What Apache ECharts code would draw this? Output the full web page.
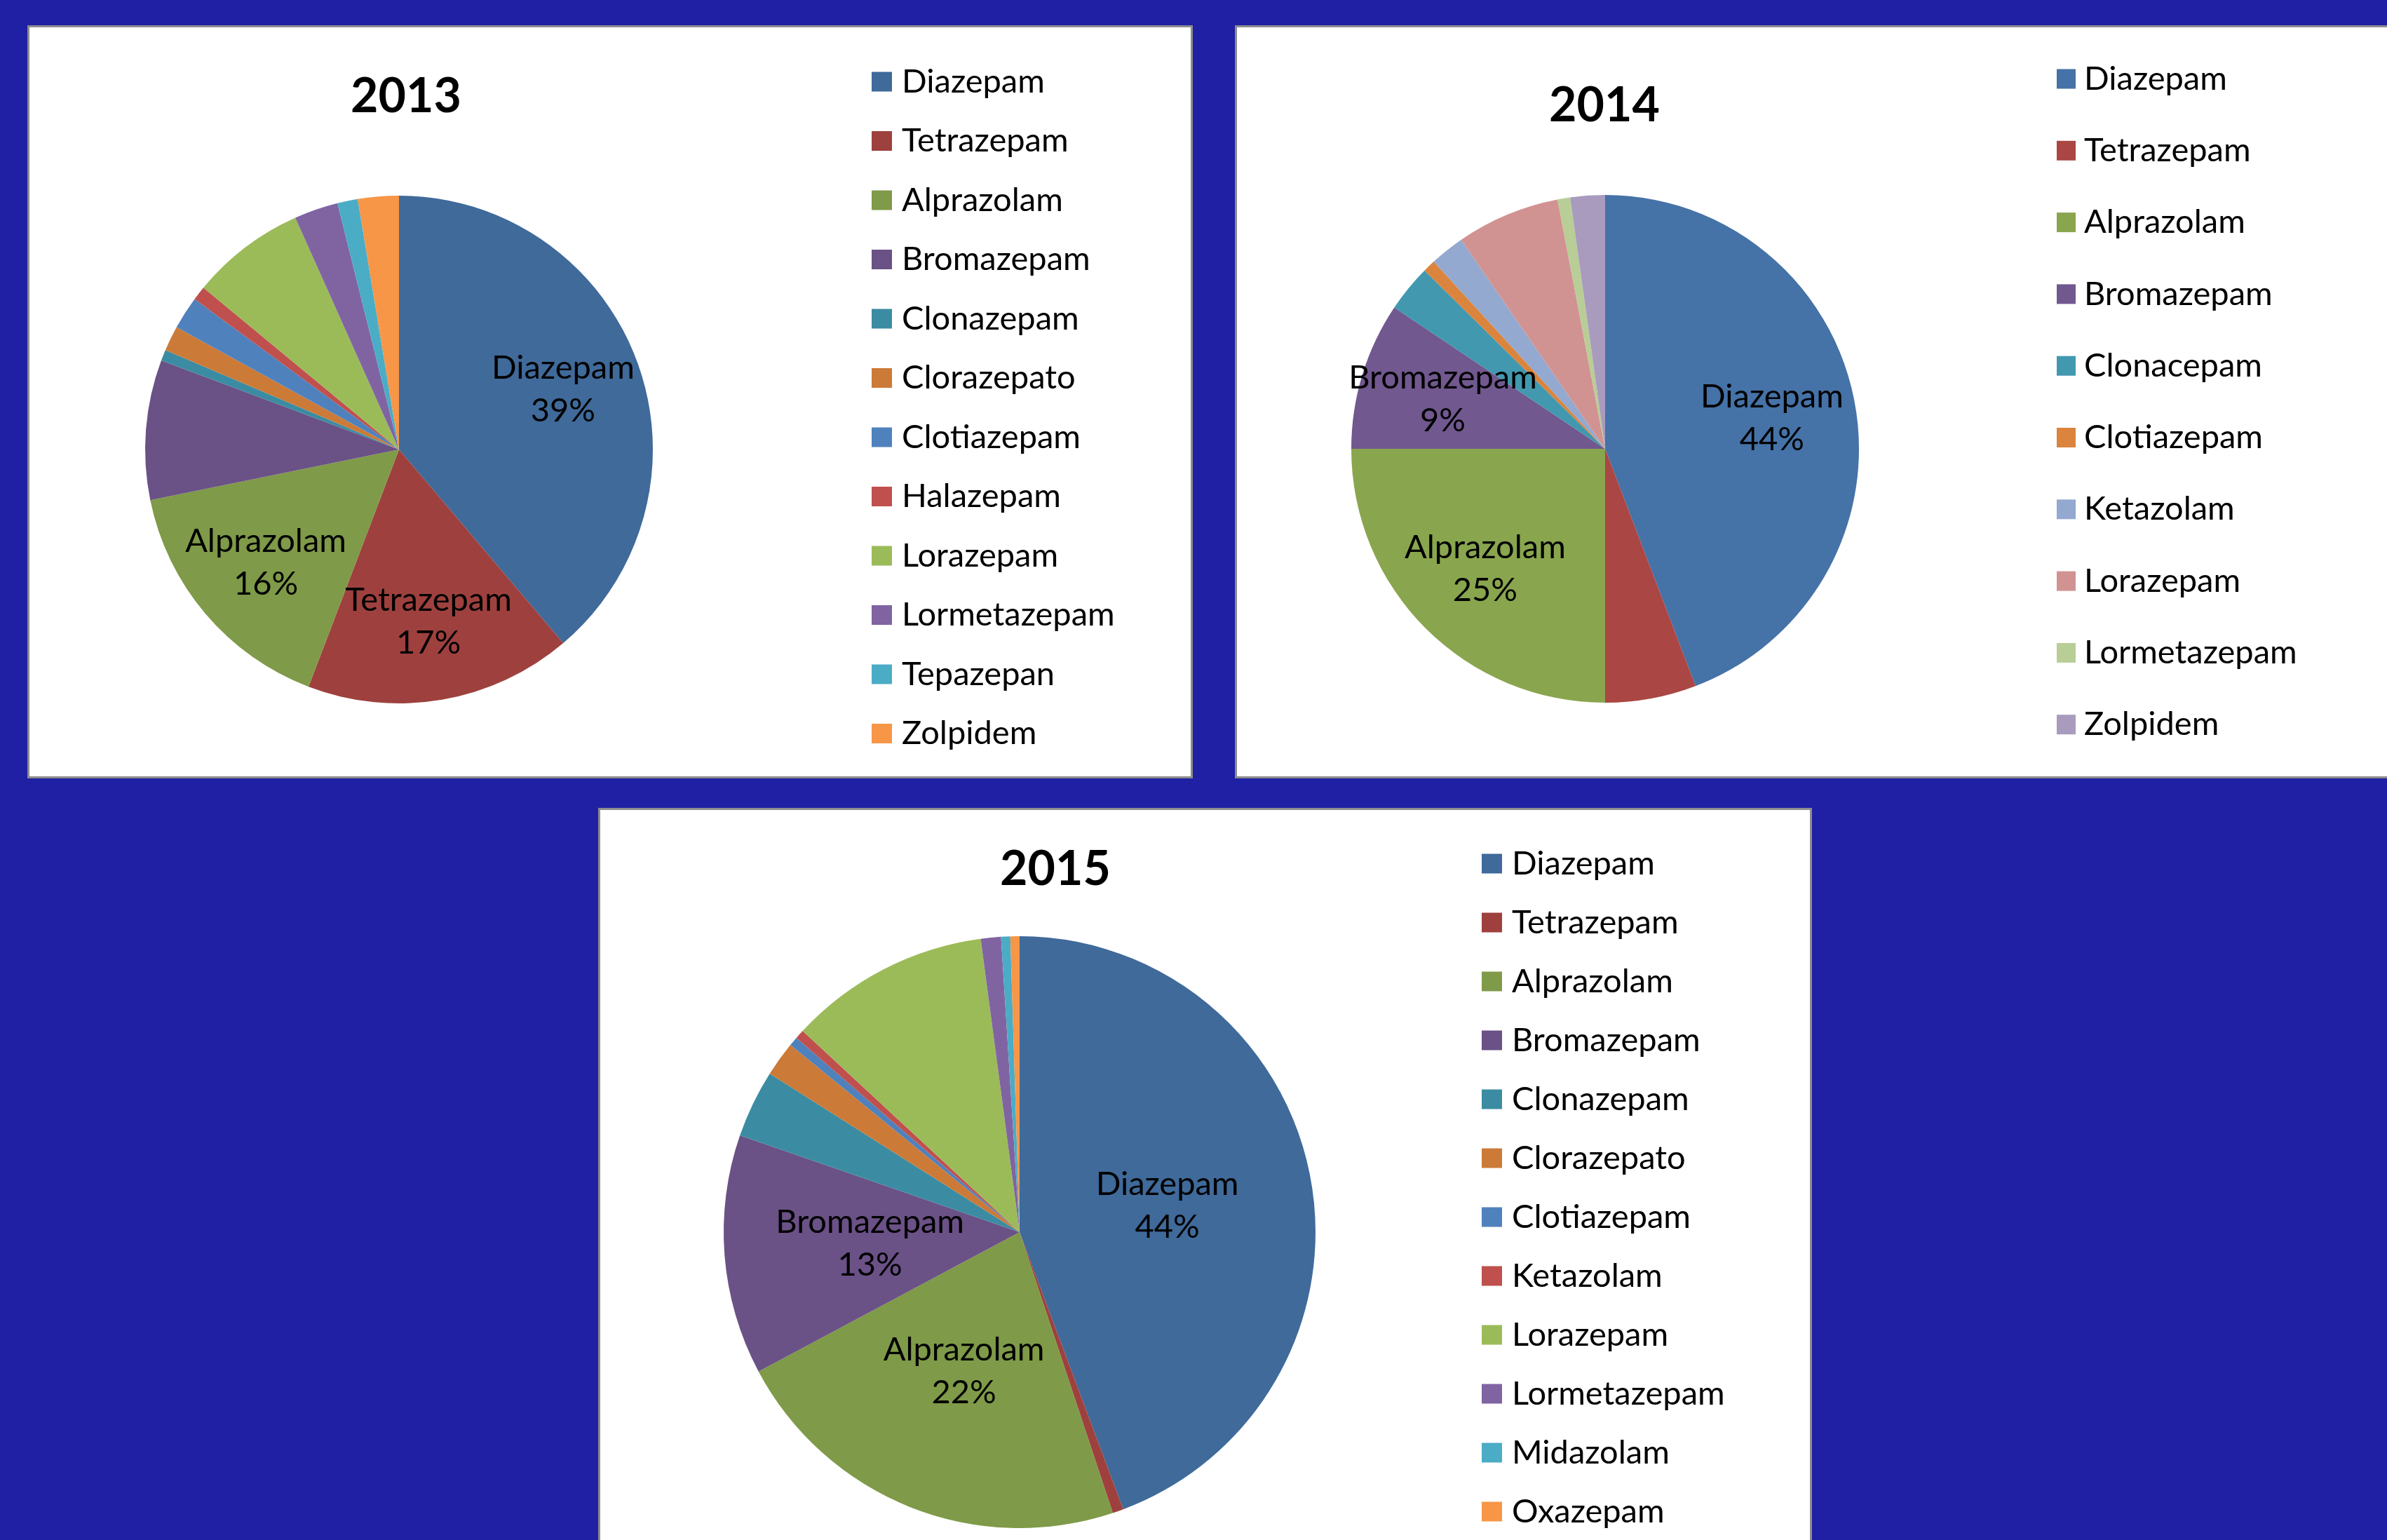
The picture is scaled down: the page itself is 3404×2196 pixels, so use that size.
<!DOCTYPE html>
<html>
<head>
<meta charset="utf-8">
<title>Benzodiacepinas 2013 - 2015</title>
<script src="https://cdn.jsdelivr.net/npm/echarts@6.0.0/dist/echarts.min.js"></script>
<style>
  html, body { margin: 0; padding: 0; }
  body { width: 3404px; height: 2196px; background: #1f20a4; position: relative; overflow: hidden; }
  .panel { position: absolute; background: #fff; box-sizing: border-box; border: 3px solid #8c8c8c; }
  .chart { position: absolute; }
</style>
</head>
<body>
<div class="panel" style="left:39px;top:36px;width:1662px;height:1074px"></div>
<div class="panel" style="left:1761px;top:36px;width:1662px;height:1074px"></div>
<div class="panel" style="left:853px;top:1152px;width:1731px;height:1100px"></div>
<div id="c2013" class="chart" style="left:39px;top:36px;width:1662px;height:1074px"></div>
<div id="c2014" class="chart" style="left:1761px;top:36px;width:1662px;height:1074px"></div>
<div id="c2015" class="chart" style="left:853px;top:1152px;width:1731px;height:1100px"></div>
<script>
// 2013
var names2013 = ['Diazepam', 'Tetrazepam', 'Alprazolam', 'Bromazepam', 'Clonazepam', 'Clorazepato',
    'Clotiazepam', 'Halazepam', 'Lorazepam', 'Lormetazepam', 'Tepazepan', 'Zolpidem'];
var values2013 = [38.8, 17.0, 16.0, 8.9, 0.7, 1.6, 2.1, 0.9, 7.3, 2.8, 1.3, 2.6];
var labeled2013 = ['Diazepam', 'Tetrazepam', 'Alprazolam'];
var colors2013 = ['#3f6a9a', '#9e413e', '#7f9a48', '#6a5186', '#3b8ca2', '#cc7a37',
    '#4f81bd', '#c0504d', '#9bbb59', '#8064a2', '#4bacc6', '#f79646'];

// 2014
var names2014 = ['Diazepam', 'Tetrazepam', 'Alprazolam', 'Bromazepam', 'Clonacepam', 'Clotiazepam',
    'Ketazolam', 'Lorazepam', 'Lormetazepam', 'Zolpidem'];
var values2014 = [44.2, 5.8, 25.0, 9.4, 3.0, 0.8, 2.2, 6.6, 0.8, 2.2];
var labeled2014 = ['Diazepam', 'Alprazolam', 'Bromazepam'];
var colors2014 = ['#4572a7', '#aa4643', '#89a54e', '#71588f', '#4198af', '#db843d',
    '#93a9cf', '#d19392', '#b9cd96', '#a99bbd'];

// 2015
var names2015 = ['Diazepam', 'Tetrazepam', 'Alprazolam', 'Bromazepam', 'Clonazepam', 'Clorazepato',
    'Clotiazepam', 'Ketazolam', 'Lorazepam', 'Lormetazepam', 'Midazolam', 'Oxazepam'];
var values2015 = [44.3, 0.6, 22.3, 13.1, 3.7, 1.9, 0.5, 0.5, 11.0, 1.1, 0.5, 0.5];
var labeled2015 = ['Diazepam', 'Alprazolam', 'Bromazepam'];
var colors2015 = colors2013;

var FONT = 'Lato, "Open Sans", sans-serif';

function drawPie(domId, title, names, values, colors, labeled, lay) {
    var chart = echarts.init(document.getElementById(domId), null, {
        width: lay.width,
        height: lay.height
    });
    var slices = [];
    var labels = [];
    var legendData = [];
    for (var i = 0; i < names.length; i++) {
        slices.push({ name: names[i], value: values[i], itemStyle: { color: colors[i] } });
        labels.push({ name: names[i], value: values[i], label: { show: labeled.indexOf(names[i]) >= 0 } });
        legendData.push({ name: names[i], itemStyle: { color: colors[i] } });
    }
    var option = {
        animation: false,
        graphic: [{
            type: 'text',
            x: lay.titleX,
            y: lay.titleY,
            style: {
                text: title,
                font: 'bold 68px ' + FONT,
                fill: '#000',
                align: 'center',
                verticalAlign: 'middle'
            }
        }],
        legend: {
            orient: 'vertical',
            left: lay.legendLeft,
            top: lay.legendTop,
            padding: 0,
            itemGap: lay.legendGap,
            itemWidth: lay.markW,
            itemHeight: 28,
            icon: 'rect',
            selectedMode: false,
            data: legendData,
            textStyle: {
                fontFamily: FONT,
                fontSize: 47,
                lineHeight: 47,
                color: '#000',
                padding: [0, 0, 0, lay.textPad]
            }
        },
        series: [
            {
                type: 'pie',
                center: lay.center,
                radius: [0, lay.r],
                startAngle: 90,
                clockwise: true,
                silent: true,
                itemStyle: { borderWidth: 0 },
                label: { show: false },
                labelLine: { show: false },
                data: slices
            },
            {
                // labels only: the inner radius sets how far out the inside labels sit
                type: 'pie',
                center: lay.center,
                radius: [lay.r * lay.labelInner, lay.r],
                startAngle: 90,
                clockwise: true,
                silent: true,
                percentPrecision: 0,
                avoidLabelOverlap: false,
                labelLayout: { hideOverlap: false },
                itemStyle: { color: 'rgba(0,0,0,0)', borderWidth: 0 },
                label: {
                    position: 'inside',
                    formatter: '{b}\n{d}%',
                    fontFamily: FONT,
                    fontSize: 47,
                    lineHeight: 61,
                    color: '#000'
                },
                labelLine: { show: false },
                data: labels
            }
        ]
    };
    chart.setOption(option);
}

window.onload = function () {
    drawPie('c2013', '2013', names2013, values2013, colors2013, labeled2013, {
        width: 1662, height: 1074, center: [530, 605], r: 362, labelInner: 0.36,
        titleX: 540, titleY: 102, legendLeft: 1204, legendTop: 57, legendGap: 37.5,
        markW: 29, textPad: 9
    });
    drawPie('c2014', '2014', names2014, values2014, colors2014, labeled2014, {
        width: 1662, height: 1074, center: [528, 604], r: 362, labelInner: 0.32,
        titleX: 527, titleY: 115, legendLeft: 1172, legendTop: 53, legendGap: 55.3,
        markW: 27, textPad: 7
    });
    drawPie('c2015', '2015', names2015, values2015, colors2015, labeled2015, {
        width: 1731, height: 1100, center: [601, 605], r: 422, labelInner: 0,
        titleX: 652, titleY: 88, legendLeft: 1260, legendTop: 56, legendGap: 37,
        markW: 29, textPad: 9
    });
};
</script>
</body>
</html>
